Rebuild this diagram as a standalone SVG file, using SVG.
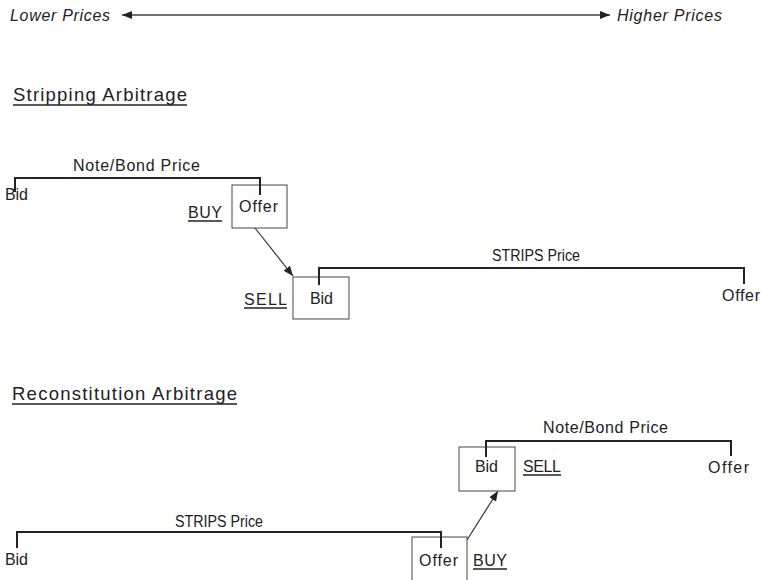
<svg xmlns="http://www.w3.org/2000/svg" width="761" height="580" viewBox="0 0 761 580">
<style>
text{font-family:"Liberation Sans",Arial,sans-serif;fill:#222;font-size:16px}
.it{font-style:italic}
.ttl{font-size:18.5px}
.br{fill:none;stroke:#222;stroke-width:2}
.box{fill:#fff;stroke:#444;stroke-width:1}
.ul{stroke:#222;stroke-width:1.5}
.ar{stroke:#333;stroke-width:1.2;fill:none}
</style>
<defs>
<marker id="ah" viewBox="0 0 10 10" refX="10" refY="5" markerWidth="10" markerHeight="10" markerUnits="userSpaceOnUse" orient="auto-start-reverse">
<path d="M0,1 L10,5 L0,9 Z" fill="#222"/>
</marker>
</defs>
<rect width="761" height="580" fill="#fff"/>

<g id="scale">
<text class="it" x="10" y="21" textLength="100">Lower Prices</text>
<text class="it" x="617" y="21" textLength="105">Higher Prices</text>
</g>

<g id="connectors">
<line x1="122" y1="15" x2="610" y2="15" stroke="#444" stroke-width="1.5" marker-start="url(#ah)" marker-end="url(#ah)"/>
<line class="ar" x1="255" y1="228" x2="293" y2="276" marker-end="url(#ah)"/>
<line class="ar" x1="467" y1="540" x2="498" y2="491" marker-end="url(#ah)"/>
</g>

<g id="stripping-title">
<text class="ttl" x="13" y="101" textLength="174">Stripping Arbitrage</text>
<line class="ul" x1="13" y1="105" x2="187" y2="105"/>
</g>

<g id="s-notebond">
<path class="br" d="M15,192 V178 H260 V195"/>
<text x="73" y="171" textLength="127">Note/Bond Price</text>
<text x="5" y="200" textLength="23">Bid</text>
</g>

<g id="s-buy">
<rect class="box" x="232" y="185" width="55" height="43"/>
<path class="br" d="M260,178 V195"/>
<text x="239" y="212" textLength="39">Offer</text>
<text x="188" y="218" textLength="34">BUY</text>
<line class="ul" x1="188" y1="221" x2="222" y2="221"/>
</g>

<g id="s-sell">
<rect class="box" x="293" y="277" width="56" height="42"/>
<text x="310" y="304" textLength="23">Bid</text>
<text x="244" y="305" textLength="43">SELL</text>
<line class="ul" x1="244" y1="308" x2="287" y2="308"/>
</g>

<g id="s-strips">
<path class="br" d="M319,285 V268 H744 V284"/>
<text x="492" y="261" textLength="88" lengthAdjust="spacingAndGlyphs">STRIPS Price</text>
<text x="722" y="301" textLength="38">Offer</text>
</g>

<g id="recon-title">
<text class="ttl" x="12" y="400" textLength="225">Reconstitution Arbitrage</text>
<line class="ul" x1="12" y1="404" x2="237" y2="404"/>
</g>

<g id="r-strips">
<path class="br" d="M17,548 V532 H441 V548"/>
<text x="175" y="527" textLength="88" lengthAdjust="spacingAndGlyphs">STRIPS Price</text>
<text x="5" y="565" textLength="23">Bid</text>
</g>

<g id="r-buy">
<rect class="box" x="412" y="537" width="55" height="50"/>
<path class="br" d="M441,532 V548"/>
<text x="419" y="566" textLength="39">Offer</text>
<text x="473" y="566" textLength="34">BUY</text>
<line class="ul" x1="473" y1="569" x2="507" y2="569"/>
</g>

<g id="r-sell">
<rect class="box" x="459" y="447" width="56" height="44"/>
<path class="br" d="M486,457 V441"/>
<text x="475" y="472" textLength="23">Bid</text>
<text x="523" y="472" textLength="38">SELL</text>
<line class="ul" x1="523" y1="475" x2="561" y2="475"/>
</g>

<g id="r-notebond">
<path class="br" d="M486,456 V441 H731 V456"/>
<text x="543" y="433" textLength="125">Note/Bond Price</text>
<text x="708" y="473" textLength="41">Offer</text>
</g>
</svg>
